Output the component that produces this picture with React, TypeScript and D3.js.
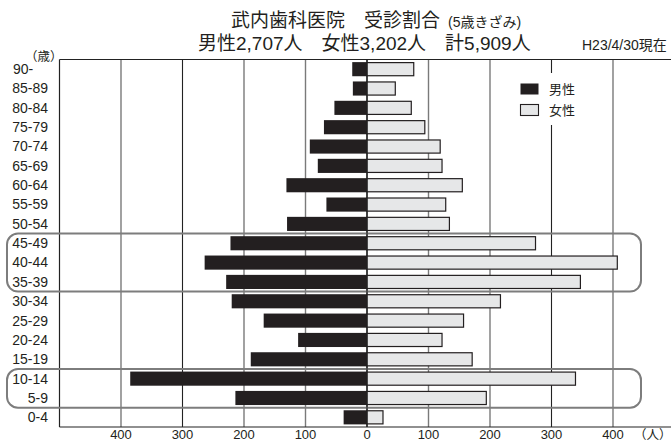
import React from "react";
import * as d3 from "d3";

const ages = ["90-", "85-89", "80-84", "75-79", "70-74", "65-69", "60-64", "55-59", "50-54", "45-49", "40-44", "35-39", "30-34", "25-29", "20-24", "15-19", "10-14", "5-9", "0-4"];
const male = [24, 23, 53, 70, 93, 80, 131, 66, 130, 222, 264, 229, 220, 168, 112, 189, 385, 214, 38];
const female = [76, 46, 72, 94, 119, 122, 155, 128, 134, 274, 407, 347, 217, 157, 122, 171, 339, 194, 26];
const xTicks = [-400, -300, -200, -100, 0, 100, 200, 300, 400];
const highlightGroups = [["45-49", "35-39"], ["10-14", "5-9"]];
const title1 = "武内歯科医院　受診割合";
const title1Small = "(5歳きざみ)";
const title2 = "男性2,707人　女性3,202人　計5,909人";
const dateLabel = "H23/4/30現在";
const legendItems = ["男性", "女性"];

const FONT = "'Liberation Sans', Arial, 'Noto Sans CJK JP', sans-serif";
const MALE_FILL = "#231f20";
const FEMALE_FILL = "#e6e7e8";

export default function App() {
  const W = 671, H = 442;
  const top = 59.5, bottom = 427;
  const x = d3.scaleLinear().domain([-500, 500]).range([59.5, 674.5]);
  const row = d3.scaleBand<string>().domain(ages).range([top, bottom]).padding(0);
  const y = d3.scaleBand<string>().domain(ages).range([top, bottom]).paddingInner(0.27).paddingOuter(0.135);

  return (
    <svg width={W} height={H} style={{ position: "absolute", left: 0, top: 0, background: "#fff" }} fontFamily={FONT}>
      {/* grid */}
      {xTicks.map((t) => (
        <line key={"g" + t} x1={x(t)} x2={x(t)} y1={top} y2={bottom}
          stroke={Math.abs(t) === 300 || t === 0 ? "#222" : "#7a7a7a"} strokeWidth={Math.abs(t) === 300 ? 1.1 : 1.4} />
      ))}
      {/* legend background */}
      <rect x={500} y={73} width={98} height={52} fill="#fff" />
      {/* frame */}
      <line x1={x(-500)} x2={x(-500)} y1={top} y2={bottom} stroke="#222" strokeWidth={1.2} />
      <line x1={x(-500)} x2={W} y1={top} y2={top} stroke="#222" strokeWidth={1.2} />
      <line x1={x(-500)} x2={W} y1={bottom} y2={bottom} stroke="#222" strokeWidth={1.2} />
      {/* highlight boxes */}
      {highlightGroups.map(([a, b], i) => {
        const y0 = row(a)!;
        const y1 = row(b)! + row.bandwidth();
        return <rect key={"hb" + i} x={7} y={y0} width={634} height={y1 - y0} rx={11} ry={11}
          fill="none" stroke="#7d7d7d" strokeWidth={2} />;
      })}
      {/* bars */}
      {ages.map((a, i) => (
        <g key={"b" + a}>
          <rect x={x(-male[i])} y={y(a)!} width={x(0) - x(-male[i])} height={y.bandwidth()} fill={MALE_FILL} />
          <rect x={x(0)} y={y(a)! + 0.5} width={x(female[i]) - x(0)} height={y.bandwidth() - 1}
            fill={FEMALE_FILL} stroke="#231f20" strokeWidth={1.2} />
        </g>
      ))}
      <line x1={x(0)} x2={x(0)} y1={top} y2={bottom} stroke="#222" strokeWidth={1} />
      {/* y labels */}
      {ages.map((a) => {
        const start = a.endsWith("-");
        return (
          <text key={"l" + a} x={start ? 13 : 48} y={row(a)! + row.bandwidth() / 2} dy="0.35em"
            textAnchor={start ? "start" : "end"} fontSize={14} fill="#231f20">{a}</text>
        );
      })}
      <text x={25} y={61} fontSize={12.5} fill="#231f20" fontFamily="'Noto Sans CJK JP', sans-serif">（歳）</text>
      {/* x labels */}
      {xTicks.map((t) => (
        <text key={"t" + t} x={x(t)} y={438.5} textAnchor="middle" fontSize={13} fill="#231f20">{Math.abs(t)}</text>
      ))}
      <text x={634} y={438.5} fontSize={12.5} fill="#231f20" fontFamily="'Noto Sans CJK JP', sans-serif">（人）</text>
      {/* legend */}
      {legendItems.map((l, i) => (
        <g key={"lg" + l}>
          <rect x={520.5} y={83.5 + i * 21} width={18} height={11}
            fill={i === 0 ? MALE_FILL : FEMALE_FILL} stroke="#231f20" strokeWidth={i === 0 ? 0 : 1.1} />
          <text x={549} y={93.5 + i * 21} fontSize={13} fill="#231f20">{l}</text>
        </g>
      ))}
      {/* titles */}
      <text x={231} y={27} fontSize={19} fill="#231f20">
        {title1}
        <tspan fontSize={14} dx={8}>{title1Small}</tspan>
      </text>
      <text x={198} y={49.5} fontSize={19} fill="#231f20">{title2}</text>
      <text x={582} y={50} fontSize={14} fill="#231f20">{dateLabel}</text>
    </svg>
  );
}
